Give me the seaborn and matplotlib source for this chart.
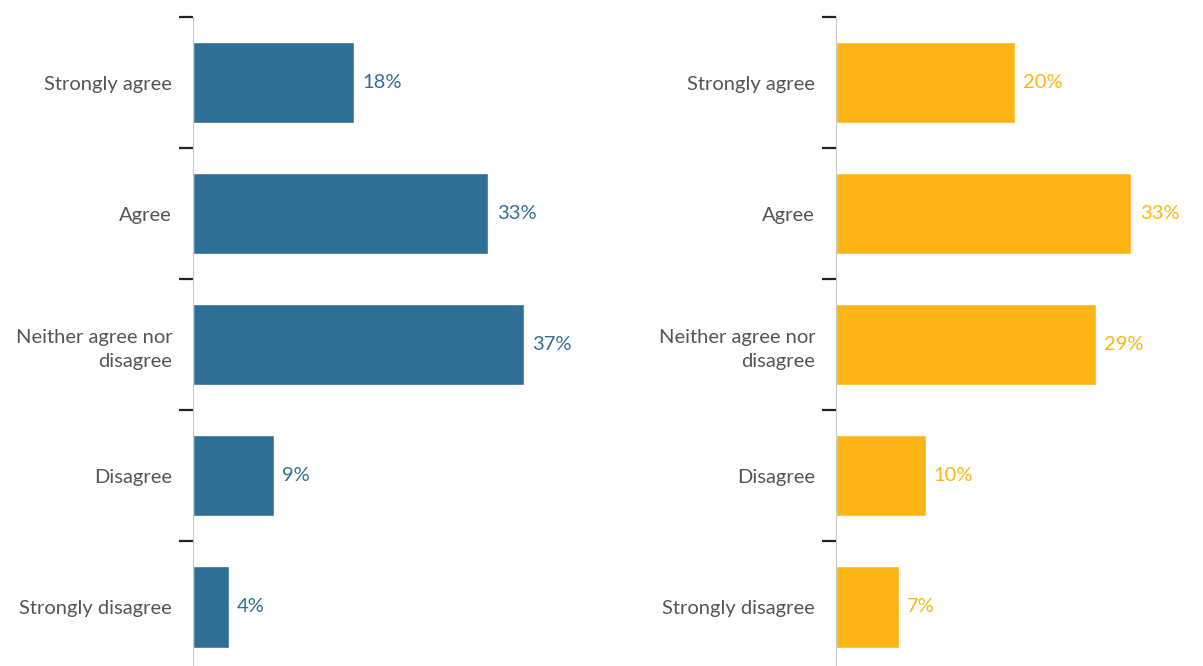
import matplotlib
matplotlib.use("Agg")
import matplotlib.pyplot as plt
import seaborn as sns
import pandas as pd

categories = ["Strongly agree", "Agree", "Neither agree nor\ndisagree", "Disagree", "Strongly disagree"]
left_values = [18, 33, 37, 9, 4]
right_values = [20, 33, 29, 10, 7]

BLUE = "#2f6f96"
ORANGE = "#fdb515"
TEXT = "#555555"

sns.set_theme(style="white")
plt.rcParams["font.family"] = ["Lato", "DejaVu Sans"]

fig = plt.figure(figsize=(12.03, 6.66), dpi=100)

W, H = 1203, 666
ax_h = 655.5 / H
ax_b = -6.5 / H
ax_w = 358 / W
axes = [
    fig.add_axes([193 / W, ax_b, ax_w, ax_h]),
    fig.add_axes([836 / W, ax_b, ax_w, ax_h]),
]

for ax, vals, color in zip(axes, [left_values, right_values], [BLUE, ORANGE]):
    df = pd.DataFrame({"category": categories, "value": vals})
    sns.barplot(data=df, x="value", y="category", ax=ax, color=color,
                saturation=1, width=0.62, orient="h")
    ax.set_xlim(0, 40)
    ax.set_ylim(4.5, -0.5)
    ax.set_xlabel("")
    ax.set_ylabel("")
    ax.set_xticks([])
    for s in ["top", "right", "bottom"]:
        ax.spines[s].set_visible(False)
    ax.spines["left"].set_color("#c8c8c8")
    ax.spines["left"].set_linewidth(0.8)
    ax.tick_params(axis="y", which="major", length=0, pad=15,
                   labelsize=14.5, labelcolor=TEXT)
    for lbl in ax.get_yticklabels():
        lbl.set_horizontalalignment("right")
        lbl.set_multialignment("right")
        lbl.set_linespacing(1.45)
    ax.set_yticks([i - 0.5 for i in range(len(categories) + 1)], minor=True)
    ax.tick_params(axis="y", which="minor", length=10, width=1.6,
                   color="#222222", left=True)
    ax.bar_label(ax.containers[0], labels=[f"{v}%" for v in vals],
                 padding=6, color=color, fontsize=14.5)

fig.savefig("out.png", dpi=100)
